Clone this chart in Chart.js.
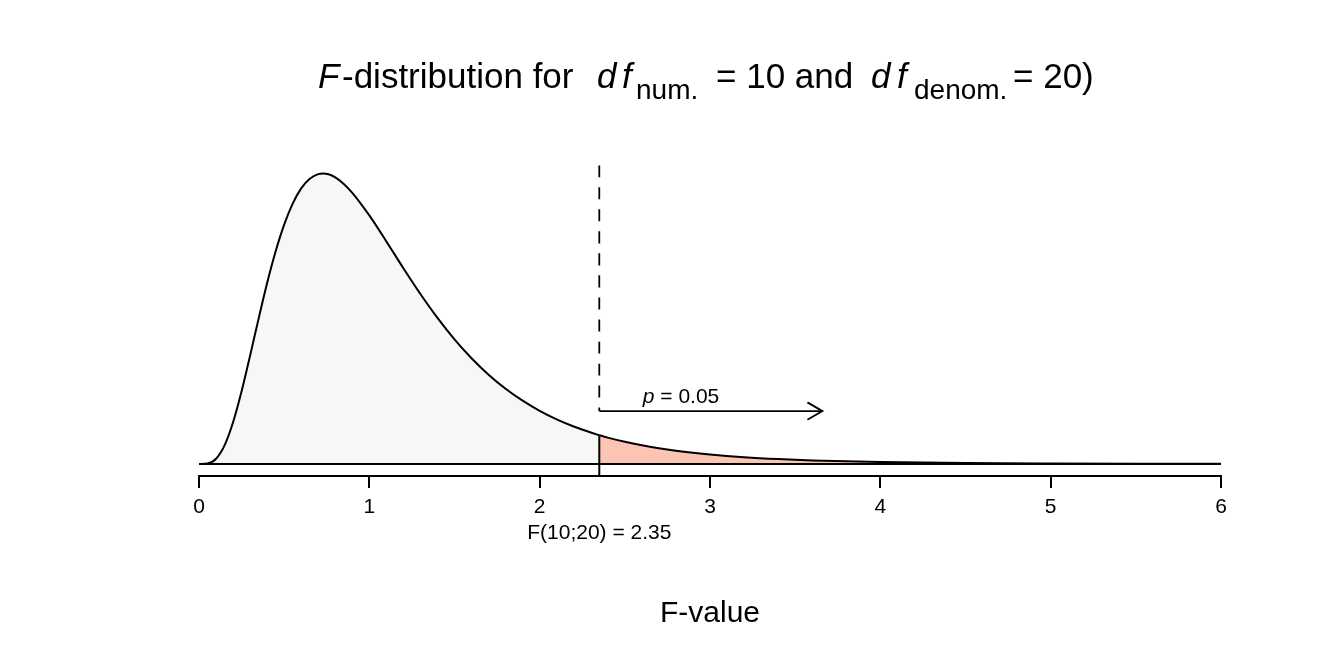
<!DOCTYPE html>
<html>
<head>
<meta charset="utf-8">
<script src="https://cdn.jsdelivr.net/npm/chart.js@4/dist/chart.umd.min.js"></script>
<style>
  html, body { margin: 0; padding: 0; background: #ffffff; }
  #wrap { width: 1344px; height: 672px; }
</style>
</head>
<body>
<div id="wrap"><canvas id="c" width="1344" height="672"></canvas></div>
<script>
// ---- data ----
const fValues = [0, 0.05, 0.1, 0.15, 0.2, 0.25, 0.3, 0.35, 0.4, 0.45, 0.5, 0.55, 0.6, 0.65, 0.7, 0.73, 0.76, 0.8, 0.85, 0.9, 1.0,
  1.1, 1.2, 1.3, 1.4, 1.5, 1.6, 1.7, 1.8, 1.9, 2.0, 2.1, 2.2, 2.3, 2.35, 2.4, 2.5, 2.6, 2.7, 2.8, 2.9, 3.0,
  3.2, 3.4, 3.6, 3.8, 4.0, 4.5, 5.0, 5.5, 6.0];
const densities = [0, 0.0014, 0.0151, 0.0535, 0.1198, 0.2088, 0.3114, 0.4178, 0.5198, 0.6111, 0.6878, 0.7483, 0.7920, 0.8198, 0.8330, 0.8348, 0.8324, 0.8236, 0.8049, 0.7793, 0.7143,
  0.6396, 0.5626, 0.4884, 0.4198, 0.3582, 0.3039, 0.2567, 0.2163, 0.1819, 0.1527, 0.1282, 0.1076, 0.0903, 0.0827, 0.0758, 0.0637, 0.0536, 0.0452, 0.0381, 0.0322, 0.0272,
  0.0196, 0.0142, 0.0103, 0.0076, 0.0056, 0.0027, 0.0014, 0.0007, 0.0004];
const xTicks = [0, 1, 2, 3, 4, 5, 6];
const dfNum = 10;
const dfDenom = 20;
const criticalF = 2.35;
const criticalDensity = 0.0827;
const pValue = 0.05;
const arrowEndF = 3.66;
const arrowLevel = 0.152;
const dashTop = 0.858;
const pLabelCenterF = 2.83;

// ---- build datasets ----
const pts = fValues.map((x, i) => ({ x: x, y: densities[i] }));
const leftPts = pts.filter(p => p.x <= criticalF);
const rightPts = pts.filter(p => p.x >= criticalF);

const Y_MIN = -0.0345;
const Y_MAX = 0.9023;
const FONT = '"Liberation Sans", Arial, Helvetica, sans-serif';

const common = { pointRadius: 0, pointHoverRadius: 0, borderColor: '#000000', borderWidth: 2, cubicInterpolationMode: 'monotone', order: 0 };

const datasets = [
  Object.assign({}, common, { data: leftPts, fill: 'origin', backgroundColor: '#F7F7F7', order: 10 }),
  Object.assign({}, common, { data: rightPts, fill: 'origin', backgroundColor: 'rgb(252,197,179)', order: 10 }),
  Object.assign({}, common, { data: [{ x: xTicks[0], y: 0 }, { x: xTicks[xTicks.length - 1], y: 0 }], fill: false }),
  Object.assign({}, common, { data: [{ x: criticalF, y: Y_MIN }, { x: criticalF, y: criticalDensity }], fill: false }),
  Object.assign({}, common, { data: [{ x: criticalF, y: dashTop }, { x: criticalF, y: arrowLevel }], fill: false, borderWidth: 1.8, borderDash: [12, 10] }),
  Object.assign({}, common, { data: [{ x: criticalF, y: arrowLevel }, { x: arrowEndF, y: arrowLevel }], fill: false, borderWidth: 1.8 })
];

function drawSegs(ctx, segs, baseline) {
  segs.forEach(s => {
    ctx.font = s.font;
    ctx.textAlign = 'left';
    ctx.textBaseline = 'alphabetic';
    ctx.fillText(s.t, s.x, baseline + (s.dy || 0));
  });
}

const annot = {
  id: 'annot',
  afterDraw(chart) {
    const ctx = chart.ctx;
    const xs = chart.scales.x, ys = chart.scales.y;
    ctx.save();
    ctx.fillStyle = '#000';
    ctx.strokeStyle = '#000';

    // arrowhead
    const ax = xs.getPixelForValue(arrowEndF), ay = ys.getPixelForValue(arrowLevel);
    ctx.lineWidth = 1.8;
    ctx.beginPath();
    ctx.moveTo(ax - 15, ay - 8.7);
    ctx.lineTo(ax, ay);
    ctx.lineTo(ax - 15, ay + 8.7);
    ctx.stroke();

    // title
    const main = '35px ' + FONT, mainIt = 'italic 35px ' + FONT, sub = '28px ' + FONT;
    drawSegs(ctx, [
      { t: 'F', x: 318, font: mainIt },
      { t: '-distribution for', x: 342, font: main },
      { t: 'd', x: 597, font: mainIt },
      { t: 'f', x: 622, font: mainIt },
      { t: 'num.', x: 636, font: sub, dy: 11 },
      { t: '= ' + dfNum + ' and', x: 716, font: main },
      { t: 'd', x: 871, font: mainIt },
      { t: 'f', x: 897, font: mainIt },
      { t: 'denom.', x: 914, font: sub, dy: 11 },
      { t: '= ' + dfDenom + ')', x: 1013, font: main }
    ], 88);

    // p label
    const pc = xs.getPixelForValue(pLabelCenterF);
    ctx.font = 'italic 21px ' + FONT;
    const wp = ctx.measureText('p').width;
    ctx.font = '21px ' + FONT;
    const wr = ctx.measureText(' = ' + pValue.toFixed(2)).width;
    const px0 = pc - (wp + wr) / 2;
    ctx.textBaseline = 'alphabetic';
    ctx.textAlign = 'left';
    ctx.font = 'italic 21px ' + FONT;
    ctx.fillText('p', px0, 402.5);
    ctx.font = '21px ' + FONT;
    ctx.fillText(' = ' + pValue.toFixed(2), px0 + wp, 402.5);

    // critical value label
    ctx.textAlign = 'center';
    ctx.font = '21px ' + FONT;
    ctx.fillText('F(' + dfNum + ';' + dfDenom + ') = ' + criticalF.toFixed(2), xs.getPixelForValue(criticalF), 539);

    // x axis title
    ctx.font = '30px ' + FONT;
    ctx.fillText('F-value', (chart.chartArea.left + chart.chartArea.right) / 2, 622);
    ctx.restore();
  }
};

new Chart(document.getElementById('c'), {
  type: 'line',
  data: { datasets: datasets },
  options: {
    responsive: false,
    animation: false,
    events: [],
    layout: { padding: { left: 199, right: 123, top: 150, bottom: 0 } },
    scales: {
      x: {
        type: 'linear',
        min: xTicks[0],
        max: xTicks[xTicks.length - 1],
        afterFit: s => { s.height = 196; s.paddingLeft = 0; s.paddingRight = 0; },
        afterBuildTicks: s => { s.ticks = xTicks.map(v => ({ value: v })); },
        ticks: { color: '#000', font: { family: FONT, size: 21 }, padding: 7, maxRotation: 0, autoSkip: false },
        grid: { drawOnChartArea: false, drawTicks: true, tickLength: 12, color: '#000', lineWidth: 2 },
        border: { display: true, color: '#000', width: 2 }
      },
      y: { display: false, min: Y_MIN, max: Y_MAX }
    },
    plugins: { legend: { display: false }, tooltip: { enabled: false }, title: { display: false } }
  },
  plugins: [annot]
});
</script>
</body>
</html>
